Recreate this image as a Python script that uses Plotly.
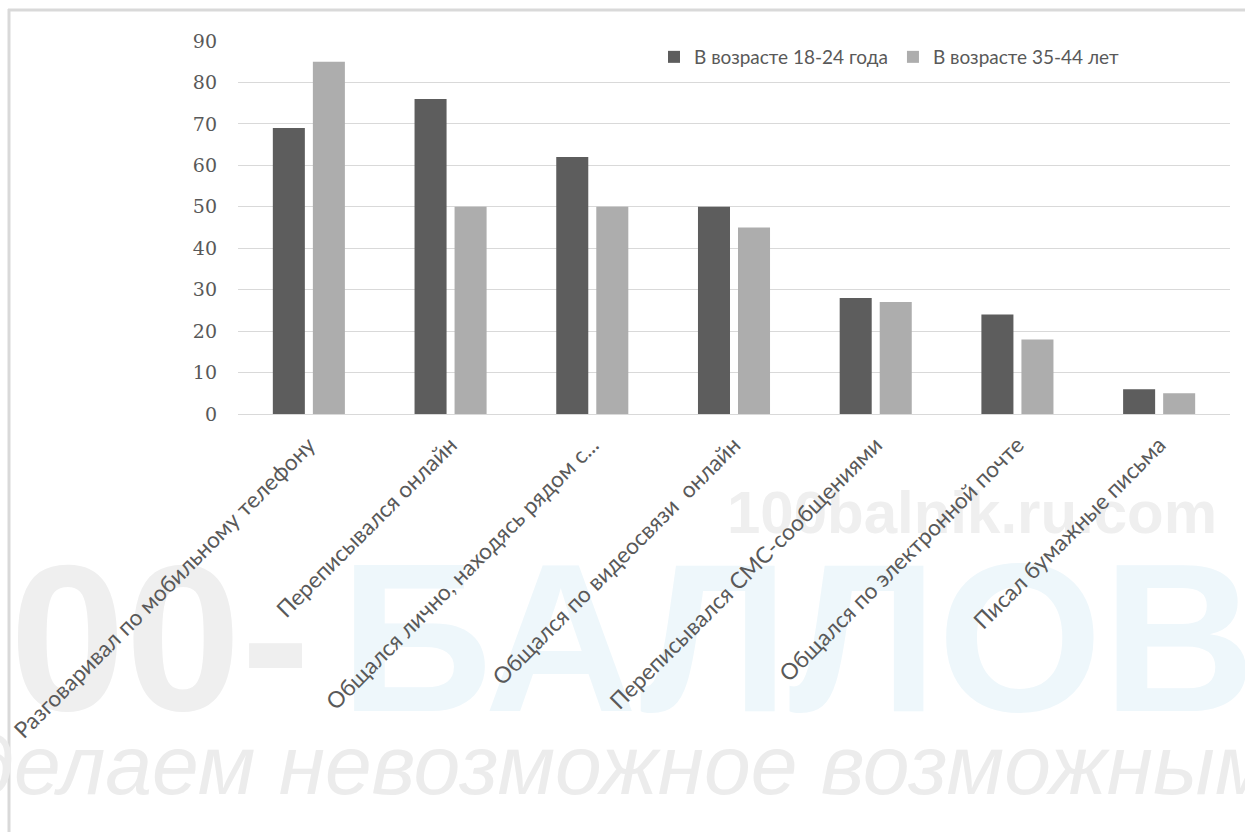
import plotly.graph_objects as go

categories = [
    "Разговаривал по мобильному телефону",
    "Переписывался онлайн",
    "Общался лично, находясь рядом с...",
    "Общался по видеосвязи  онлайн",
    "Переписывался СМС-сообщениями",
    "Общался по электронной почте",
    "Писал бумажные письма",
]
series_names = ["В возрасте 18-24 года", "В возрасте 35-44 лет"]
values_18_24 = [69, 76, 62, 50, 28, 24, 6]
values_35_44 = [85, 50, 50, 45, 27, 18, 5]
y_ticks = [0, 10, 20, 30, 40, 50, 60, 70, 80, 90]

DARK = "#5d5d5d"
LIGHT = "#adadad"
TEXT = "#595959"

# figure / plot-area geometry (pixels)
W, H = 1245, 832
L, R, T, B = 238, 1230, 41, 414
n = len(categories)
ymax = 90

fig = go.Figure()

# faint background watermark on a full-figure pixel subplot (drawn first, below the chart)
watermark = [
    ("<b>100balnik.ru.com</b>", 972, 518, 60, "#efefef", "Liberation Sans", "middle center"),
    ("<b>00-</b>", 160, 658, 208, "#efefef", "Liberation Sans", "middle center"),
    ("<b>БАЛЛОВ</b>", 340, 658, 212, "#eef7fb", "Liberation Sans", "middle right"),
    ("<i>делаем невозможное возможным</i>", 620, 773, 84, "#ececec", "Liberation Sans", "middle center"),
]
for txt, px, py, size, color, fam, pos in watermark:
    fig.add_trace(go.Scatter(
        x=[px], y=[py], xaxis="x", yaxis="y", mode="text", text=[txt],
        textposition=pos, textfont=dict(family=fam, size=size, color=color),
        cliponaxis=False, showlegend=False, hoverinfo="skip",
    ))

x_idx = list(range(n))
fig.add_trace(go.Bar(x=x_idx, y=values_18_24, name=series_names[0], xaxis="x2", yaxis="y2",
                     marker=dict(color=DARK, line=dict(width=0))))
fig.add_trace(go.Bar(x=x_idx, y=values_35_44, name=series_names[1], xaxis="x2", yaxis="y2",
                     marker=dict(color=LIGHT, line=dict(width=0))))

fig.update_layout(
    width=W, height=H,
    margin=dict(l=0, r=0, t=0, b=0, autoexpand=False),
    paper_bgcolor="white", plot_bgcolor="rgba(0,0,0,0)",
    barmode="group", bargap=0.435, bargroupgap=0.2,
    font=dict(family="Lato", color=TEXT, size=19),
    legend=dict(orientation="h", x=1124 / W, xanchor="right", y=1 - 57 / H, yanchor="middle",
                font=dict(family="Lato", size=19, color=TEXT), bgcolor="rgba(0,0,0,0)",
                itemwidth=30, tracegroupgap=0),
    xaxis=dict(domain=[0, 1], range=[0, W], visible=False, fixedrange=True),
    yaxis=dict(domain=[0, 1], range=[H, 0], visible=False, fixedrange=True),
    xaxis2=dict(domain=[L / W, R / W], anchor="y2", range=[-0.5, n - 0.5], tickvals=x_idx,
                ticktext=categories, tickangle=-45, ticklabelstandoff=8,
                tickfont=dict(family="Lato", size=22.5, color=TEXT),
                showline=True, linecolor="#d9d9d9", linewidth=1, ticks="", showgrid=False,
                zeroline=False),
    yaxis2=dict(domain=[(H - B) / H, (H - T) / H], anchor="x2", range=[0, ymax], tickvals=y_ticks,
                showgrid=True, gridcolor="#d9d9d9", gridwidth=1, zeroline=False, showline=False,
                ticks="", ticklabelstandoff=20,
                tickfont=dict(family="DejaVu Serif", size=19, color=TEXT)),
    shapes=[
        dict(type="line", xref="paper", yref="paper", x0=8 / W, x1=1.0,
             y0=1 - 10 / H, y1=1 - 10 / H, line=dict(color="#d9d9d9", width=3), layer="below"),
        dict(type="line", xref="paper", yref="paper", x0=9 / W, x1=9 / W,
             y0=1 - 9 / H, y1=0, line=dict(color="#d9d9d9", width=3), layer="below"),
    ],
)

fig.write_html("out.html", config={"displayModeBar": False},
               post_script="document.body.style.margin='0';document.body.style.overflow='hidden';")
